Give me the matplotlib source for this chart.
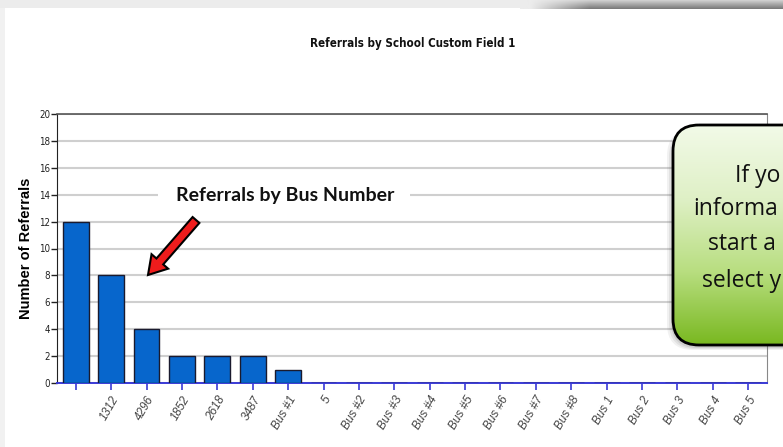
import matplotlib
matplotlib.use("Agg")
import matplotlib.pyplot as plt
import numpy as np
from matplotlib.patches import Rectangle, FancyBboxPatch, FancyArrow
from matplotlib.colors import LinearSegmentedColormap

categories = ["", "1312", "4296", "1852", "2618", "3487", "Bus #1", "5",
              "Bus #2", "Bus #3", "Bus #4", "Bus #5", "Bus #6", "Bus #7",
              "Bus #8", "Bus 1", "Bus 2", "Bus 3", "Bus 4", "Bus 5"]
values = [12, 8, 4, 2, 2, 2, 1, 0, 0, 0, 0, 0, 0, 0, 0, 0, 0, 0, 0, 0]
yticks = list(range(0, 21, 2))

title = "Referrals by School Custom Field 1"
ylabel = "Number of Referrals"
note = "Referrals by Bus Number"
callout_lines = ["If yo", "informa", "start a", "select y"]

W, H = 783, 447
fig = plt.figure(figsize=(W / 100, H / 100), dpi=100)
fig.patch.set_facecolor("white")

cond = dict(family=["DejaVu Sans", "Liberation Sans"], stretch="condensed")

ax = fig.add_axes([57 / W, 1 - 383 / H, (767 - 57) / W, (383 - 114) / H])
x = np.arange(len(categories))
ax.bar(x, values, width=0.73, color="#0766cc", edgecolor="#1a1a2e", linewidth=1.0, zorder=3)
ax.set_xlim(-0.53, len(categories) - 0.47)
ax.set_ylim(0, 20)
ax.set_yticks(yticks)
ax.set_yticklabels([str(t) for t in yticks], fontsize=7, color="#222222", **cond)
ax.set_xticks(x)
ax.set_xticklabels(categories, rotation=60, ha="right", va="top", rotation_mode="anchor",
                   fontsize=8.5, style="italic", family=["Liberation Sans", "DejaVu Sans"], color="#444444")
ax.tick_params(axis="x", colors="#3a3ad6", length=5, width=1.2, pad=3, labelcolor="#444444")
ax.tick_params(axis="y", colors="#222222", length=4, width=1, pad=1, labelcolor="#222222")
ax.yaxis.grid(True, color="#cfcfcf", linewidth=1.5, zorder=0)
ax.set_axisbelow(True)
ax.spines["bottom"].set_color("#3a3ad6")
ax.spines["bottom"].set_linewidth(1.4)
ax.spines["left"].set_color("#222222")
ax.spines["top"].set_color("#555555")
ax.spines["top"].set_linewidth(1.2)
ax.spines["right"].set_color("#888888")
ax.set_ylabel(ylabel, fontsize=10.5, fontweight="bold", family=["Liberation Sans", "DejaVu Sans"])
ax.yaxis.set_label_coords((33 - 57) / (767 - 57), 0.5)

fig.text(413 / W, 1 - 44 / H, title, ha="center", va="center", fontsize=8.3,
         fontweight="bold", color="#111111", **cond)

# overlay in pixel coordinates for decorations
ov = fig.add_axes([0, 0, 1, 1], zorder=10)
ov.set_xlim(0, W)
ov.set_ylim(H, 0)
ov.axis("off")
ov.patch.set_alpha(0)

# screenshot frame
ov.add_patch(Rectangle((0, 0), W, 8, color="#ececec", lw=0))
ov.add_patch(Rectangle((0, 8), 5, H - 8, color="#f1f1f1", lw=0))
xx = np.clip((np.linspace(520, W, 300) - 530) / 60.0, 0, 1)
yy = np.linspace(0.25, 1, 10)
shade = np.outer(yy, xx)
ov.imshow(shade, extent=(520, W, 9, 0), cmap=LinearSegmentedColormap.from_list(
    "sh", ["#ececec", "#7a7a7a"]), vmin=0, vmax=1, aspect="auto", zorder=1, interpolation="bilinear")

# note text with white gap over gridline
ov.add_patch(Rectangle((158, 188), 252, 14, color="white", lw=0, zorder=3))
ov.text(285, 195, note, ha="center", va="center", fontsize=14, fontweight="bold",
        family=["Lato", "DejaVu Sans"], color="#111111", zorder=4)

# red arrow
tail = (196, 220)
head = (148, 275)
ov.add_patch(FancyArrow(tail[0], tail[1], head[0] - tail[0], head[1] - tail[1],
                        width=9, head_width=22, head_length=18, length_includes_head=True,
                        facecolor="#ee1c1c", edgecolor="black", linewidth=1.5, zorder=5))

# callout shadow
for i, a in enumerate([0.08, 0.10, 0.14]):
    ov.add_patch(FancyBboxPatch((667 + i * 2, 130 + i * 1), 200, 220 - i * 2,
                                boxstyle="round,pad=0,rounding_size=26", facecolor="#555555",
                                edgecolor="none", alpha=a, zorder=5))
# callout box with gradient
box = FancyBboxPatch((673, 125), 200, 220, boxstyle="round,pad=0,rounding_size=26",
                     facecolor="none", edgecolor="black", linewidth=2, zorder=7)
ov.add_patch(box)
g = np.linspace(0, 1, 256).reshape(-1, 1)
cm = LinearSegmentedColormap.from_list("gr", ["#f2fae8", "#dff0c6", "#b8de80", "#79b820"])
im = ov.imshow(g, extent=(673, 873, 345, 125), cmap=cm, aspect="auto", zorder=6)
im.set_clip_path(box)

line_pos = [(735, 182), (693, 215), (708, 250), (702, 287)]
for (lx, ly), t in zip(line_pos, callout_lines):
    ov.text(lx, ly, t, ha="left", va="baseline", fontsize=16.5, family=["Open Sans", "DejaVu Sans"],
            color="#111111", zorder=8)

fig.savefig("out.png", dpi=100)
